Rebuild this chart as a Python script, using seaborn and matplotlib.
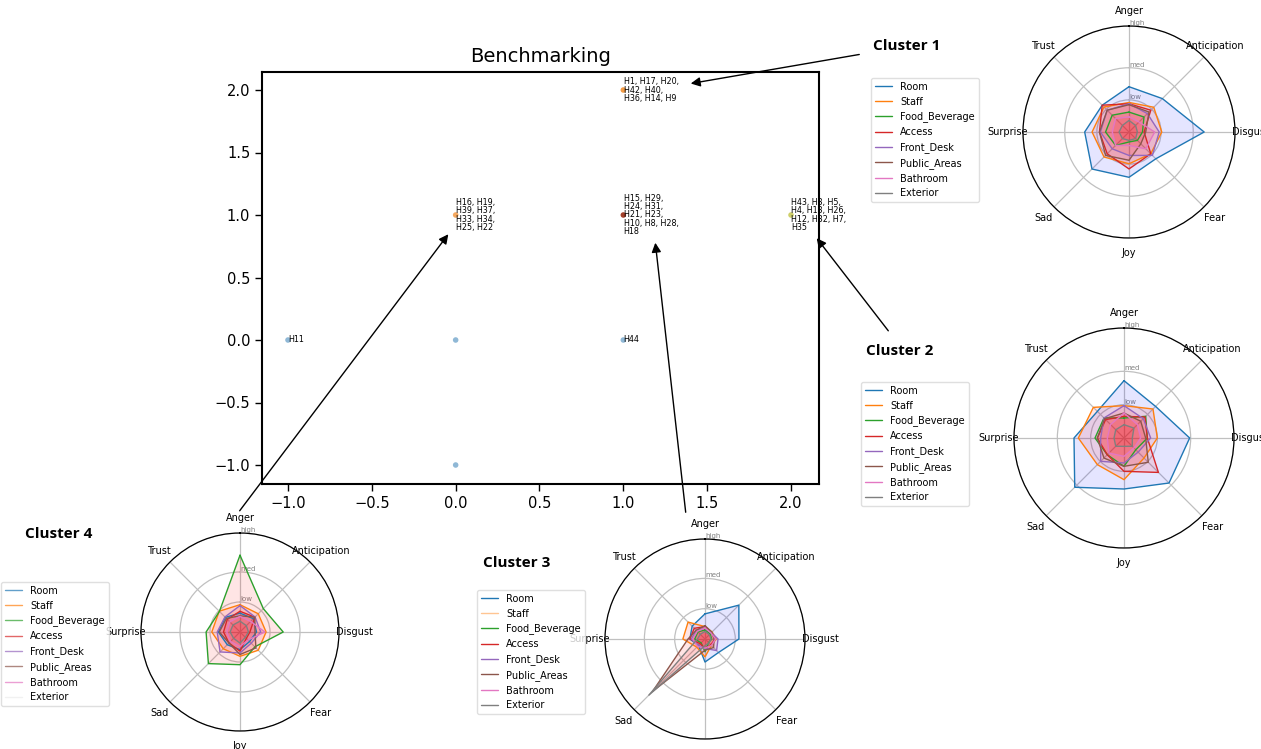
import numpy as np
import pandas as pd
import matplotlib
matplotlib.use("Agg")
import matplotlib.pyplot as plt
import seaborn as sns
from matplotlib.patches import FancyArrowPatch
from matplotlib.lines import Line2D

# ---- benchmark positions of the hotels ----
point_x = [-1, 0, 0, 1, 1, 0, 1, 2]
point_y = [0, 0, -1, 0, 2, 1, 1, 1]
point_group = ["single", "single", "single", "single", "c1", "c4", "c3", "c2"]
point_labels = [
    "H11", "", "", "H44",
    "H1, H17, H20,\nH42, H40,\nH36, H14, H9",
    "H16, H19,\nH39, H37,\nH33, H34,\nH25, H22",
    "H15, H29,\nH24, H31,\nH21, H23,\nH10, H8, H28,\nH18",
    "H43, H3, H5,\nH4, H13, H26,\nH12, H32, H7,\nH35",
]

# ---- emotion profiles per cluster (rows: aspects, cols: emotions) ----
emotions = ["Anger", "Anticipation", "Disgust", "Fear", "Joy", "Sad", "Surprise", "Trust"]
aspects = ["Room", "Staff", "Food_Beverage", "Access", "Front_Desk",
           "Public_Areas", "Bathroom", "Exterior"]
level_ticks = [1, 2, 3.3]
level_labels = ["low", "med", "high"]

cluster1_scores = [
    [1.41, 1.47, 2.34, 1.18, 1.41, 1.63, 1.38, 1.18],
    [0.92, 1.09, 1.02, 0.96, 0.99, 1.10, 1.15, 1.10],
    [0.62, 0.66, 0.42, 0.37, 0.31, 0.59, 0.73, 0.74],
    [0.88, 0.96, 0.47, 0.96, 1.15, 0.96, 0.92, 1.18],
    [0.88, 0.81, 0.94, 1.03, 0.73, 0.74, 0.89, 0.96],
    [0.85, 0.88, 0.52, 0.52, 0.88, 1.03, 0.92, 0.96],
    [0.47, 0.44, 0.80, 0.74, 0.42, 0.59, 0.52, 0.59],
    [0.36, 0.29, 0.26, 0.29, 0.26, 0.29, 0.31, 0.29],
]
cluster2_scores = [
    [1.72, 1.34, 1.97, 1.91, 1.53, 2.09, 1.50, 1.13],
    [0.97, 1.23, 1.00, 0.85, 1.25, 1.13, 1.37, 1.30],
    [0.60, 0.92, 0.70, 0.50, 0.85, 0.71, 0.87, 0.85],
    [0.65, 0.89, 0.70, 1.46, 1.00, 0.71, 0.80, 0.78],
    [0.97, 0.82, 0.80, 0.60, 0.75, 0.99, 0.70, 0.85],
    [0.75, 0.71, 0.65, 1.03, 0.85, 0.85, 0.80, 0.82],
    [0.75, 0.57, 0.50, 0.42, 0.55, 0.64, 0.50, 0.57],
    [0.40, 0.42, 0.25, 0.35, 0.25, 0.35, 0.30, 0.35],
]
cluster3_scores = [
    [0.83, 1.58, 1.12, 0.63, 0.76, 0.30, 0.50, 0.60],
    [0.41, 0.33, 0.37, 0.30, 0.59, 0.38, 0.73, 0.79],
    [0.30, 0.24, 0.22, 0.17, 0.42, 0.18, 0.34, 0.33],
    [0.41, 0.30, 0.34, 0.27, 0.31, 0.22, 0.50, 0.50],
    [0.36, 0.30, 0.43, 0.54, 0.31, 0.30, 0.45, 0.41],
    [0.44, 0.32, 0.30, 0.40, 0.37, 2.45, 0.56, 0.41],
    [0.36, 0.28, 0.35, 0.30, 0.30, 0.35, 0.40, 0.36],
    [0.25, 0.20, 0.20, 0.18, 0.22, 2.62, 0.25, 0.22],
]
cluster4_scores = [
    [0.63, 0.63, 0.55, 0.45, 0.59, 0.60, 0.72, 0.69],
    [0.91, 0.86, 0.87, 0.86, 0.81, 0.79, 0.94, 0.98],
    [2.56, 1.10, 1.44, 0.70, 1.09, 1.49, 1.13, 0.97],
    [0.69, 0.70, 0.33, 0.30, 0.64, 0.52, 0.55, 0.60],
    [0.88, 0.71, 0.69, 0.53, 0.70, 0.94, 0.76, 0.71],
    [0.54, 0.70, 0.50, 0.75, 0.75, 0.52, 0.69, 0.64],
    [0.52, 0.50, 0.83, 0.38, 0.48, 0.45, 0.44, 0.48],
    [0.36, 0.30, 0.28, 0.25, 0.37, 0.30, 0.33, 0.33],
]

# ---- style ----
sns.set_theme(style="ticks")
plt.rcParams.update({
    "font.family": ["DejaVu Sans"],
    "text.color": "black",
    "axes.labelcolor": "black",
    "xtick.color": "black",
    "ytick.color": "black",
    "axes.edgecolor": "black",
})
aspect_colors = sns.color_palette("tab10", 8)

W, H = 1261, 749
fig = plt.figure(figsize=(W / 100, H / 100), dpi=100)


def fx(px):
    return px / W


def fy(py):
    return 1 - py / H


# ---- scatter of the benchmark ----
ax = fig.add_axes([fx(262), fy(484), fx(819 - 262), (484 - 72) / H])
df = pd.DataFrame({"x": point_x, "y": point_y, "group": point_group, "label": point_labels})
group_palette = {"single": "#8fb8d6", "c1": "#f29b45", "c4": "#f4a860",
                 "c3": "#a3402a", "c2": "#cfcf6a"}
sns.scatterplot(data=df, x="x", y="y", hue="group", palette=group_palette,
                s=16, edgecolor="none", legend=False, ax=ax, zorder=3)
for _, row in df.iterrows():
    if row["label"]:
        ax.annotate(row["label"], (row["x"], row["y"]), xytext=(0.3, 0),
                    textcoords="offset points", ha="left", va="center",
                    fontsize=5.8, linespacing=0.88, zorder=4)
ax.set_xlim(-1.155, 2.167)
ax.set_ylim(-1.152, 2.144)
ax.set_xticks(np.arange(-1, 2.01, 0.5))
ax.set_yticks(np.arange(-1, 2.01, 0.5))
ax.set_xlabel("")
ax.set_ylabel("")
ax.tick_params(labelsize=10.5, length=5, width=1)
for sp in ax.spines.values():
    sp.set_visible(True)
    sp.set_linewidth(1.5)
ax.set_title("Benchmarking", fontsize=14, pad=7)

# ---- radar charts ----
angles = np.linspace(0, 2 * np.pi, len(emotions), endpoint=False).tolist()
angles_closed = angles + angles[:1]


def radar(rect, scores, legend_anchor, legend_alpha):
    rax = fig.add_axes(rect, projection="polar")
    rax.set_theta_offset(np.pi / 2)
    rax.set_theta_direction(-1)
    rax.set_facecolor("white")
    for i, (name, vals) in enumerate(zip(aspects, scores)):
        v = list(vals) + [vals[0]]
        rax.plot(angles_closed, v, color=aspect_colors[i], linewidth=1.0, label=name)
        rax.fill(angles_closed, v, color="#0000ff" if i == 0 else "#ff0000", alpha=0.1,
                 linewidth=0)
    rax.set_xticks(angles)
    rax.set_xticklabels(emotions, fontsize=7)
    rax.tick_params(axis="x", pad=-2)
    rax.set_rlabel_position(0)
    rax.set_yticks(level_ticks)
    rax.set_yticklabels(level_labels, color="grey", fontsize=5)
    rax.set_ylim(0, 3.3)
    rax.grid(True, color="#c0c0c0", linewidth=0.9)
    rax.spines["polar"].set_color("black")
    rax.spines["polar"].set_linewidth(0.9)
    handles = [Line2D([0], [0], color=aspect_colors[i], lw=1, alpha=legend_alpha[i])
               for i in range(len(aspects))]
    rax.legend(handles, aspects, loc="upper left", fontsize=7,
               bbox_to_anchor=(fx(legend_anchor[0]), fy(legend_anchor[1])),
               bbox_transform=fig.transFigure, frameon=True, handlelength=1.8,
               borderpad=0.4, fancybox=True, edgecolor="#d8d8d8")
    return rax


full = [1.0] * 8
radar([fx(1023), fy(238), 212 / W, 212 / H], cluster1_scores, (866, 73), full)
radar([fx(1014), fy(548), 220 / W, 220 / H], cluster2_scores, (856, 377), full)
radar([fx(605), fy(739), 200 / W, 200 / H], cluster3_scores, (472, 585),
      [1, 0.45, 1, 1, 1, 1, 1, 1])
radar([fx(141), fy(731), 198 / W, 198 / H], cluster4_scores, (-4, 577),
      [0.7, 0.7, 0.7, 0.7, 0.7, 0.7, 0.7, 0.1])

# ---- cluster captions and pointers ----
caption_style = dict(fontsize=11, fontweight="bold", family=["Open Sans", "DejaVu Sans"],
                     ha="left", va="center")
fig.text(fx(873), fy(46), "Cluster 1", **caption_style)
fig.text(fx(866), fy(351), "Cluster 2", **caption_style)
fig.text(fx(483), fy(563), "Cluster 3", **caption_style)
fig.text(fx(25), fy(534), "Cluster 4", **caption_style)

pointers = [((862, 54), (688, 84)), ((890, 333), (815, 236)),
            ((686, 515), (655, 240)), ((238, 513), (450, 232))]
for (x0, y0), (x1, y1) in pointers:
    fig.add_artist(FancyArrowPatch((fx(x0), fy(y0)), (fx(x1), fy(y1)),
                                   transform=fig.transFigure, arrowstyle="-|>",
                                   mutation_scale=14, color="black", lw=1))

fig.savefig("out.png", dpi=100, facecolor="white")
